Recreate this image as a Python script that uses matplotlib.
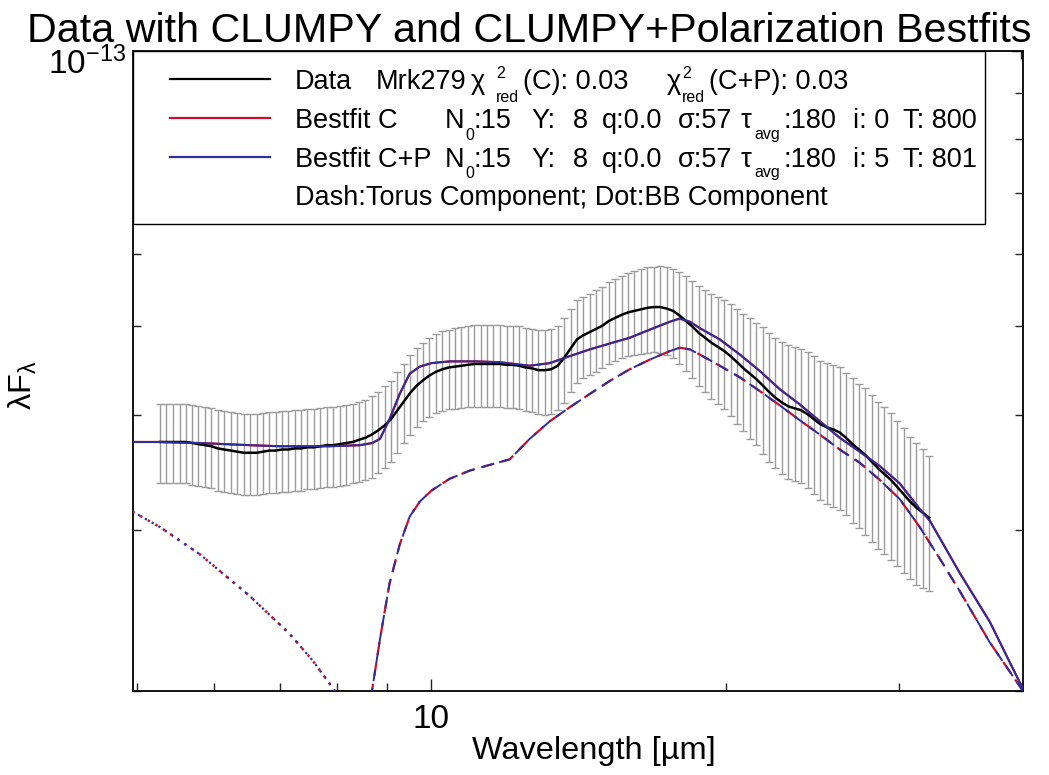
import numpy as np
import matplotlib
matplotlib.use("Agg")
import matplotlib.pyplot as plt
from matplotlib.ticker import NullFormatter, FuncFormatter
from matplotlib.patches import Rectangle
from matplotlib.transforms import ScaledTranslation

plt.rcParams['font.family'] = ['Liberation Sans', 'DejaVu Sans']
plt.rcParams['mathtext.fontset'] = 'custom'
plt.rcParams['mathtext.rm'] = 'Liberation Sans'
plt.rcParams['mathtext.it'] = 'Liberation Sans:italic'
plt.rcParams['mathtext.bf'] = 'Liberation Sans:bold'

FLUX_UNIT = 1e-14  # all flux lists below are in units of 1e-14

# Observed spectrum of Mrk279 (wavelength in micron, lambda*F_lambda, 1-sigma error)
data_wave = [5.28, 5.36, 5.44, 5.53, 5.61, 5.70, 5.78, 5.87, 5.96, 6.05,
             6.14, 6.24, 6.33, 6.43, 6.53, 6.63, 6.73, 6.83, 6.93, 7.04,
             7.14, 7.25, 7.36, 7.47, 7.59, 7.70, 7.82, 7.94, 8.06, 8.18,
             8.31, 8.43, 8.56, 8.69, 8.82, 8.96, 9.09, 9.23, 9.37, 9.51,
             9.66, 9.81, 9.95, 10.10, 10.26, 10.41, 10.57, 10.73, 10.89, 11.06,
             11.23, 11.40, 11.57, 11.75, 11.93, 12.11, 12.29, 12.48, 12.67, 12.86,
             13.06, 13.25, 13.46, 13.66, 13.87, 14.08, 14.29, 14.51, 14.73, 14.95,
             15.18, 15.41, 15.65, 15.88, 16.12, 16.37, 16.62, 16.87, 17.13, 17.39,
             17.65, 17.92, 18.19, 18.47, 18.75, 19.03, 19.32, 19.61, 19.91, 20.21,
             20.52, 20.83, 21.15, 21.47, 21.80, 22.13, 22.46, 22.80, 23.15, 23.50,
             23.86, 24.22, 24.59, 24.96, 25.34, 25.73, 26.12, 26.51, 26.92, 27.33,
             27.74, 28.16, 28.59, 29.02, 29.46, 29.91, 30.36, 30.82, 31.29, 31.77,
             32.25]
data_flux = [3.74, 3.74, 3.74, 3.74, 3.74, 3.73, 3.72, 3.71, 3.70, 3.68,
             3.67, 3.66, 3.65, 3.64, 3.64, 3.64, 3.65, 3.66, 3.66, 3.67,
             3.67, 3.68, 3.68, 3.69, 3.69, 3.70, 3.71, 3.71, 3.72, 3.73,
             3.74, 3.76, 3.78, 3.81, 3.85, 3.90, 3.96, 4.05, 4.14, 4.23,
             4.31, 4.37, 4.42, 4.46, 4.49, 4.51, 4.52, 4.53, 4.54, 4.55,
             4.55, 4.55, 4.55, 4.55, 4.54, 4.54, 4.53, 4.51, 4.50, 4.48,
             4.48, 4.49, 4.53, 4.62, 4.73, 4.84, 4.89, 4.93, 4.97, 5.01,
             5.07, 5.11, 5.15, 5.18, 5.20, 5.22, 5.24, 5.25, 5.25, 5.23,
             5.20, 5.14, 5.07, 5.00, 4.92, 4.86, 4.80, 4.75, 4.70, 4.64,
             4.57, 4.50, 4.44, 4.38, 4.31, 4.24, 4.18, 4.13, 4.09, 4.07,
             4.05, 4.01, 3.96, 3.91, 3.88, 3.86, 3.83, 3.78, 3.72, 3.67,
             3.62, 3.56, 3.50, 3.45, 3.40, 3.34, 3.28, 3.22, 3.17, 3.13,
             3.09]
data_err = [0.37, 0.37, 0.37, 0.37, 0.37, 0.37, 0.37, 0.37, 0.37, 0.37,
            0.37, 0.37, 0.37, 0.37, 0.37, 0.37, 0.37, 0.37, 0.37, 0.37,
            0.37, 0.37, 0.37, 0.37, 0.37, 0.37, 0.37, 0.37, 0.37, 0.37,
            0.37, 0.38, 0.38, 0.39, 0.39, 0.40, 0.40, 0.41, 0.41, 0.42,
            0.43, 0.43, 0.44, 0.44, 0.45, 0.45, 0.46, 0.46, 0.46, 0.47,
            0.47, 0.47, 0.47, 0.47, 0.47, 0.47, 0.47, 0.47, 0.47, 0.47,
            0.48, 0.48, 0.48, 0.49, 0.49, 0.50, 0.50, 0.50, 0.51, 0.51,
            0.52, 0.53, 0.53, 0.54, 0.55, 0.55, 0.56, 0.56, 0.57, 0.58,
            0.58, 0.59, 0.60, 0.61, 0.62, 0.62, 0.63, 0.64, 0.64, 0.65,
            0.66, 0.66, 0.67, 0.67, 0.68, 0.68, 0.68, 0.68, 0.68, 0.68,
            0.68, 0.68, 0.68, 0.68, 0.68, 0.68, 0.68, 0.67, 0.67, 0.66,
            0.66, 0.65, 0.64, 0.63, 0.62, 0.60, 0.59, 0.57, 0.56, 0.54,
            0.52]

# Best-fit total model (torus + blackbody)
model_wave = [4.95, 5.28, 5.80, 6.52, 7.00, 7.87, 8.45, 8.70, 8.86, 9.06,
              9.28, 9.50, 9.73, 10.0, 10.44, 11.10, 11.74, 12.60, 13.21, 13.84,
              14.51, 15.21, 15.94, 16.71, 17.52, 17.93, 18.36, 18.79, 19.70, 20.65,
              21.65, 22.69, 23.78, 24.93, 26.12, 27.38, 28.70, 30.08, 31.53, 32.28,
              34.65, 37.18, 40.2]
model_total_c = [3.74, 3.74, 3.73, 3.71, 3.70, 3.70, 3.71, 3.73, 3.77, 3.96,
                 4.22, 4.44, 4.52, 4.56, 4.58, 4.58, 4.57, 4.53, 4.56, 4.64,
                 4.72, 4.79, 4.86, 4.96, 5.06, 5.10, 5.06, 4.98, 4.84, 4.66,
                 4.47, 4.27, 4.11, 3.94, 3.78, 3.65, 3.52, 3.37, 3.16, 3.07,
                 2.69, 2.38, 2.01]
model_total_cp = model_total_c

# Torus component
torus_wave = [8.61, 8.86, 9.06, 9.28, 9.50, 9.73, 10.0, 10.44, 10.94, 11.46,
              12.02, 12.60, 13.21, 13.84, 14.51, 15.21, 15.94, 16.71, 17.52, 17.93,
              18.36, 18.79, 19.70, 20.65, 21.65, 22.69, 23.78, 24.93, 26.12, 27.38,
              28.70, 30.08, 31.53, 33.05, 34.65, 37.18, 40.2]
torus_c = [1.87, 2.28, 2.62, 2.89, 3.10, 3.22, 3.31, 3.41, 3.48, 3.53,
           3.58, 3.77, 3.94, 4.08, 4.22, 4.36, 4.49, 4.60, 4.70, 4.74,
           4.72, 4.66, 4.53, 4.40, 4.25, 4.10, 3.95, 3.81, 3.67, 3.55,
           3.40, 3.24, 3.02, 2.79, 2.57, 2.26, 2.00]
torus_cp = torus_c

# Hot blackbody component
bb_wave = [4.95, 5.28, 5.80, 6.52, 7.16, 7.56, 7.97, 8.25]
bb_c = [3.14, 3.02, 2.82, 2.54, 2.31, 2.16, 2.00, 1.89]
bb_cp = bb_c


def scaled(values):
    return np.asarray(values) * FLUX_UNIT


RED = '#c8102e'
BLUE = '#2e2e9a'
GREY = '#9c9c9c'

W, H = 1049, 775
AX_L, AX_R, AX_T, AX_B = 132.5, 1023.0, 50.7, 691.0

fig = plt.figure(figsize=(W / 100, H / 100), dpi=100)
ax = fig.add_axes([AX_L / W, 1 - AX_B / H, (AX_R - AX_L) / W, (AX_B - AX_T) / H])
ax.set_xscale('log')
ax.set_yscale('log')

ax.errorbar(data_wave, scaled(data_flux), yerr=scaled(data_err), fmt='none',
            ecolor=GREY, elinewidth=1.0, capsize=3, capthick=1.0, zorder=2)
ax.plot(data_wave, scaled(data_flux), color='black', lw=1.8, zorder=4)

ax.plot(model_wave, scaled(model_total_c), color=RED, lw=1.6, zorder=3)
ax.plot(torus_wave, scaled(torus_c), color=RED, lw=1.6, ls=(0, (6, 3.5)), zorder=3)
ax.plot(bb_wave, scaled(bb_c), color=RED, lw=1.8, ls=(0, (1, 2.5)), zorder=3)
ax.plot(model_wave, scaled(model_total_cp), color=BLUE, lw=1.4, zorder=5)
ax.plot(torus_wave, scaled(torus_cp), color=BLUE, lw=1.4, ls=(0, (6, 3.5)), zorder=5)
ax.plot(bb_wave, scaled(bb_cp), color=BLUE, lw=1.6, ls=(0.6, (1, 2.5)), zorder=5)

ax.set_xlim(4.95, 40.2)
ax.set_ylim(2e-14, 1e-13)

ax.xaxis.set_major_formatter(FuncFormatter(lambda v, p: f'{v:g}'))
ax.xaxis.set_minor_formatter(NullFormatter())
ax.yaxis.set_minor_formatter(NullFormatter())
ax.tick_params(which='both', direction='in', top=True, right=True, labelsize=24,
               width=1.0, color='#222222')
ax.tick_params(which='major', length=9)
ax.tick_params(which='minor', length=5.5)
ax.tick_params(axis='x', which='major', pad=9)
ax.tick_params(axis='y', which='major', pad=5)
for s in ax.spines.values():
    s.set_linewidth(1.3)

# the 10^-13 label sits a little below its tick, clear of the title
shift_down = ScaledTranslation(0, -10 / 100, fig.dpi_scale_trans)
for lab in ax.get_yticklabels():
    lab.set_transform(lab.get_transform() + shift_down)

ax.set_xlabel('Wavelength [µm]', fontsize=23.4)
ax.xaxis.set_label_coords((594 - AX_L) / (AX_R - AX_L), (AX_B - 736) / (AX_B - AX_T))
ax.set_ylabel(r'$\mathrm{\lambda}$F$_{\mathrm{\lambda}}$', fontsize=23.4)
ax.yaxis.set_label_coords((39 - AX_L) / (AX_R - AX_L), (AX_B - 385) / (AX_B - AX_T))
fig.text(529 / W, 1 - 42 / H, 'Data with CLUMPY and CLUMPY+Polarization Bestfits',
         fontsize=29.7, ha='center', va='baseline')


# ---- boxed key in the upper-left corner ----
def ax_xy(xp, yp):
    """figure pixel (from top-left) -> axes fraction"""
    return (xp - AX_L) / (AX_R - AX_L), (AX_B - yp) / (AX_B - AX_T)


FS, FS_SMALL = 19.5, 11.5
SUB, SUP = 11.5, -11.0

x0, y0 = ax_xy(AX_L, 224)
x1, y1 = ax_xy(985, AX_T)
ax.add_patch(Rectangle((x0, y0), x1 - x0, y1 - y0, transform=ax.transAxes,
                       facecolor='white', edgecolor='black', lw=1.0, zorder=10))


def put(xp, yp, s, size=FS):
    xa, ya = ax_xy(xp, yp)
    ax.text(xa, ya, s, transform=ax.transAxes, fontsize=size, ha='left',
            va='baseline', zorder=11)


def key_line(yp, color):
    xa0, ya = ax_xy(170, yp)
    xa1, _ = ax_xy(270, yp)
    ax.plot([xa0, xa1], [ya, ya], transform=ax.transAxes, color=color, lw=1.6,
            zorder=11, clip_on=False)


rows = [89.3, 128.3, 166.7, 205.0]
key_line(78.7, 'black')
key_line(118.0, RED)
key_line(156.7, BLUE)

r = rows[0]
put(295, r, 'Data')
put(376, r, 'Mrk279')
for xc, xs, tail in [(471, 496, '(C): 0.03'), (667, 682, '(C+P): 0.03')]:
    put(xc, r, 'χ')
    put(xs, r + SUP, '2', FS_SMALL)
    put(xs, r + SUB + 1, 'red', FS_SMALL)
    put(xs + 27, r, tail)

params = [('Bestfit C', '0', '800'), ('Bestfit C+P', '5', '801')]
for r, (name, incl, temp) in zip(rows[1:3], params):
    put(295, r, name)
    put(445, r, 'N')
    put(465, r + SUB, '0', FS_SMALL)
    put(474, r, ':15')
    put(531, r, 'Y:')
    put(573, r, '8')
    put(602, r, 'q:0.0')
    put(678, r, 'σ:57')
    put(741, r, 'τ')
    put(754, r + SUB - 1, 'avg', FS_SMALL)
    put(784, r, ':180')
    put(853, r, 'i: ' + incl)
    put(903, r, 'T: ' + temp)

put(295, rows[3], 'Dash:Torus Component; Dot:BB Component')

fig.savefig('out.png', dpi=100)
